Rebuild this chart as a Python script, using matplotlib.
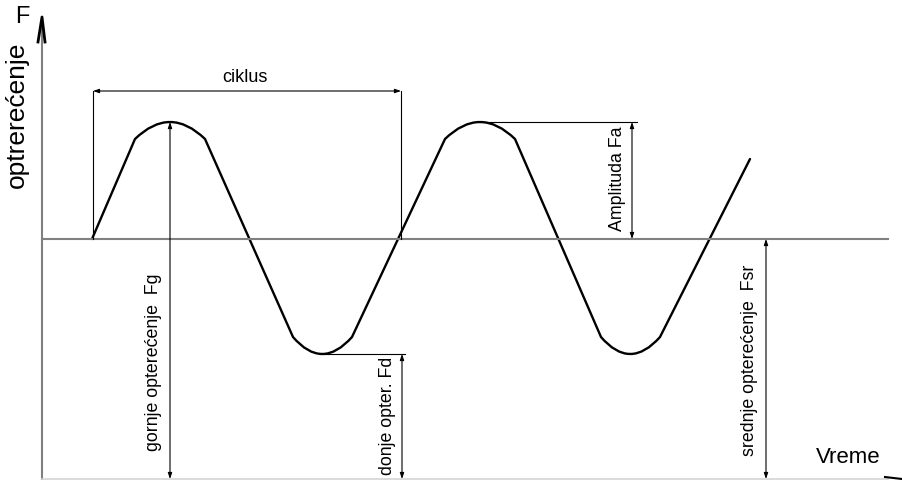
import matplotlib.pyplot as plt
from matplotlib.path import Path
from matplotlib.patches import PathPatch

plt.rcParams['font.family'] = ['Liberation Sans', 'DejaVu Sans']

# wave outline (pixel-like drawing units, y grows downward)
wave_pts = [(92, 240), (135, 140), (170, 106), (205, 140), (293, 338),
            (322, 372), (352, 338), (445, 140), (480, 106), (515, 140),
            (601, 338), (630, 372), (660, 338), (750, 160)]
wave_codes = ['M', 'L', 'Q', 'Q', 'L', 'Q', 'Q', 'L', 'Q', 'Q', 'L', 'Q', 'Q', 'L']

baseline_y = 240
peak_y = 123
trough_y = 355
bottom_y = 480
axis_x = 42

# dimension labels
dims = [
    # text, x of line, y0, y1, text x, text y
    ("gornje opterećenje  Fg", 170, peak_y, bottom_y, 153, 362),
    ("donje opter. Fd", 402, trough_y, bottom_y, 388, 416),
    ("Amplituda Fa", 632, peak_y, baseline_y, 617, 179),
    ("srednje opterećenje  Fsr", 766, baseline_y, bottom_y, 750, 360),
]

fig = plt.figure(figsize=(9.02, 4.81), dpi=100)
ax = fig.add_axes([0, 0, 1, 1])
ax.set_xlim(0, 902)
ax.set_ylim(481, 0)
ax.axis('off')

# axes
ax.plot([axis_x, axis_x], [30, 481], color='#808080', lw=1.5)
ax.plot([axis_x, 888], [baseline_y, baseline_y], color='#808080', lw=1.5)
ax.plot([axis_x, 888], [bottom_y, bottom_y], color='#d4d4d4', lw=1.2)
ax.plot([38, 42, 45], [43, 18, 43], color='black', lw=2)
ax.plot([885, 902], [478, 480], color='black', lw=1.5)

ax.text(22, 17, "F", fontsize=17, ha='center', va='center')
ax.text(17, 115, "optrerećenje", fontsize=19, rotation=90, ha='center', va='center')
ax.text(848, 458, "Vreme", fontsize=16, ha='center', va='center')

# wave
codes_map = {'M': Path.MOVETO, 'L': Path.LINETO, 'Q': Path.CURVE3}
path = Path(wave_pts, [codes_map[c] for c in wave_codes])
ax.add_patch(PathPatch(path, fill=False, lw=1.7, color='black', capstyle='round', joinstyle='round'))

arrow = dict(arrowstyle='<|-|>,head_length=0.35,head_width=0.12', color='black', lw=0.8,
             shrinkA=0, shrinkB=0)

# ciklus
ax.plot([93, 93], [92, baseline_y], color='black', lw=0.8)
ax.plot([401, 401], [92, baseline_y], color='black', lw=0.8)
ax.annotate('', xy=(93, 92), xytext=(401, 92), arrowprops=arrow)
ax.text(245, 77, "ciklus", fontsize=13, ha='center', va='center')

# extension lines
ax.plot([322, 405], [trough_y, trough_y], color='black', lw=0.8)
ax.plot([480, 637], [peak_y, peak_y], color='black', lw=0.8)

for label, lx, y0, y1, tx, ty in dims:
    ax.annotate('', xy=(lx, y0), xytext=(lx, y1), arrowprops=arrow)
    ax.text(tx, ty, label, fontsize=12.8, rotation=90, ha='center', va='center')

fig.savefig('out.png', dpi=100)
